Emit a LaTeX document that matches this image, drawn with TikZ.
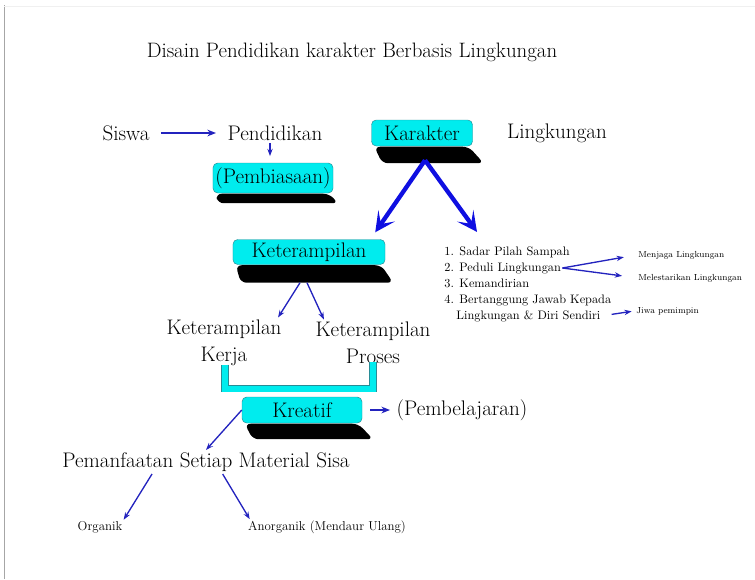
\documentclass[tikz,border=0pt]{standalone}
\usepackage{xcolor}
\usepackage{tikz}
\usetikzlibrary{calc, positioning, arrows.meta}
\definecolor{boxcyan}{RGB}{0,236,238}
\definecolor{boxedge}{RGB}{40,140,150}
\definecolor{arrowblue}{RGB}{35,35,190}
\definecolor{bigblue}{RGB}{15,15,225}
\tikzset{
    plain/.style={font=\fontsize{18}{21}\selectfont, inner sep=2pt, align=center},
    title/.style={font=\fontsize{17.8}{21}\selectfont},
    listitem/.style={font=\fontsize{10.5}{12}\selectfont, anchor=base west, inner sep=1pt},
    note/.style={font=\fontsize{7.5}{9}\selectfont, anchor=base west, inner sep=1pt},
    leaf/.style={font=\fontsize{11}{13}\selectfont, inner sep=1pt},
    keybox/.style={rectangle, rounded corners=4pt, draw=boxedge, fill=boxcyan, thin, font=\fontsize{18}{21}\selectfont, inner sep=1pt, minimum height=0.78cm},
    slabfill/.style={fill=black, rounded corners=5pt},
    bigarrow/.style={-{Stealth[length=0.6cm, width=0.6cm, inset=0.3cm]}, line width=0.13cm, bigblue},
    arrow/.style={-{Stealth[length=0.26cm, width=0.2cm]}, line width=0.05cm, arrowblue},
    thinarrow/.style={-{Stealth[length=0.22cm, width=0.16cm]}, line width=0.04cm, arrowblue},
    bracket/.style={draw=boxedge, line width=0.5pt, double=boxcyan, double distance=0.18cm}
}
% black slab under a box: node, skew, depth (in px units)
\newcommand{\slab}[3]{%
    \fill[slabfill] ($(#1.south west)+(3,0.5)$) -- ($(#1.south east)+(-4,0.5)$)
        -- ($(#1.south east)+(#2,#3)$) -- ($(#1.south west)+(#2,#3)$) -- cycle;}
\begin{document}
\begin{tikzpicture}[x=0.03cm, y=-0.03cm]
    \useasboundingbox (0,0) rectangle (755,579);
    % Page edges
    \draw[gray!70, line width=0.7pt] (4,5) -- (4,579);
    \draw[gray!12, line width=0.5pt] (4,6) -- (755,6);

    % Title
    \node[title] (Title) at (352,52) {Disain Pendidikan karakter Berbasis Lingkungan};

    % Top row
    \node[plain] (Siswa) at (126,133) {Siswa};
    \node[plain] (Pendidikan) at (275,133) {Pendidikan};
    \node[keybox, minimum width=3.6cm, minimum height=0.9cm] (Pembiasaan) at (273,178) {(Pembiasaan)};
    \node[keybox, minimum width=3.03cm] (Karakter) at (422,133) {Karakter};
    \node[plain] (Lingkungan) at (557,133) {Lingkungan};
    \slab{Pembiasaan}{5}{10}
    \slab{Karakter}{11}{17}

    \draw[arrow, shorten <=0.27cm, shorten >=0.27cm] (Siswa) -- (Pendidikan);
    \draw[thinarrow, shorten >=0.2cm] ([xshift=-0.15cm]Pendidikan.south) -- ([xshift=-0.09cm]Pembiasaan.north);

    % Keterampilan branch
    \node[keybox, minimum width=4.56cm, minimum height=0.75cm] (Keterampilan) at (309,252) {Keterampilan};
    \slab{Keterampilan}{8}{18}
    \node[plain, font=\fontsize{18}{23}\selectfont] (KetKerja) at (224,343) {Keterampilan\\Kerja};
    \node[plain, font=\fontsize{18}{23}\selectfont] (KetProses) at (373,343) {Keterampilan\\Proses};

    % Lingkungan list
    \node[listitem] (item1) at (443,255) {1. Sadar Pilah Sampah};
    \node[listitem] (item2) at (443,271) {2. Peduli Lingkungan};
    \node[listitem] (item3) at (443,287) {3. Kemandirian};
    \node[listitem] (item4) at (443,303) {4. Bertanggung Jawab Kepada};
    \node[listitem] (item4b) at (455,319) {Lingkungan \& Diri Sendiri};
    \node[note] (Menjaga) at (637,257) {Menjaga Lingkungan};
    \node[note] (Melestarikan) at (637,280) {Melestarikan Lingkungan};
    \node[note] (Jiwa) at (635,313) {Jiwa pemimpin};

    \draw[bigarrow] ($(Karakter.south)+(3,14)$) -- ($(Keterampilan.north east)+(-10,-7)$);
    \draw[bigarrow] ($(Karakter.south)+(3,14)$) -- ($(item1.north west)+(34,-13)$);

    \draw[thinarrow] ($(Keterampilan.south)+(-9,18)$) -- ($(KetKerja.north east)+(-6,0)$);
    \draw[thinarrow] ($(Keterampilan.south)+(-2,18)$) -- ($(KetProses.north west)+(11,0)$);

    \draw[thinarrow, shorten >=0.4cm] (item2.east) -- (Menjaga.west);
    \draw[thinarrow, shorten >=0.45cm] (item2.east) -- (Melestarikan.west);
    \draw[thinarrow, shorten <=0.3cm, shorten >=0.1cm] (item4b.east) -- (Jiwa.west);

    % Kreatif
    \draw[bracket] ([shift={(1,-4)}]KetKerja.south) -- ++(0,24) -| ([shift={(0,-4)}]KetProses.south);
    \node[keybox, minimum width=3.6cm] (Kreatif) at (302,410) {Kreatif};
    \slab{Kreatif}{11}{16}
    \node[plain] (Pembelajaran) at (462,410) {(Pembelajaran)};
    \draw[arrow, shorten <=0.24cm, shorten >=0.12cm] (Kreatif.east) -- (Pembelajaran.west);

    % Material sisa
    \node[plain] (Pemanfaatan) at (206,462) {Pemanfaatan Setiap Material Sisa};
    \node[leaf] (Organik) at (100,527) {Organik};
    \node[leaf] (Anorganik) at (327,527) {Anorganik (Mendaur Ulang)};

    \draw[thinarrow] (Kreatif.west) -- (Pemanfaatan.north);
    \draw[thinarrow] ([xshift=-1.62cm]Pemanfaatan.south) -- (Organik.north east);
    \draw[thinarrow] ([xshift=0.5cm]Pemanfaatan.south) -- ([xshift=0.09cm]Anorganik.north west);
\end{tikzpicture}
\end{document}
